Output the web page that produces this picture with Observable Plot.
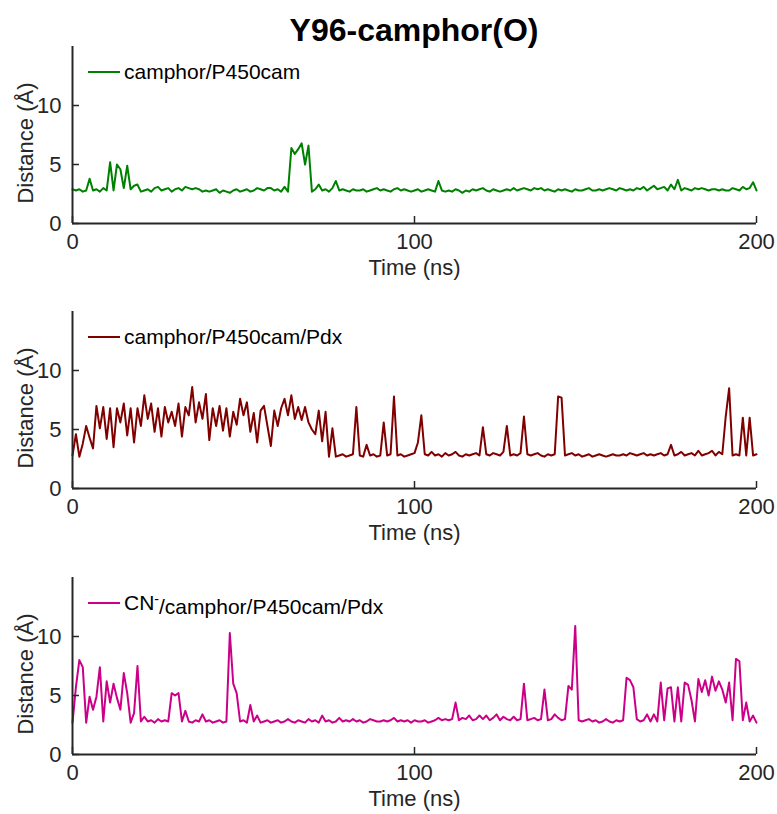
<!DOCTYPE html>
<html>
<head>
<meta charset="utf-8">
<script src="https://cdn.jsdelivr.net/npm/d3@7"></script>
<script src="https://cdn.jsdelivr.net/npm/@observablehq/plot@0.6"></script>
<style>
  html, body { margin: 0; padding: 0; background: #fff; }
  #wrap { position: relative; width: 777px; height: 814px; font-family: "Liberation Sans", Arial, Helvetica, sans-serif; }
  #title { position: absolute; left: 0; top: 10px; width: 828px; height: 40px; text-align: center; font-weight: bold; font-size: 32px; line-height: 40px; color: #000; }
  .panel { position: absolute; left: 0; }
</style>
</head>
<body>
<div id="wrap">
  <div id="title">Y96-camphor(O)</div>
</div>
<script>
// ---- data ----
const timeNs = d3.range(0, 201, 1); // sampling grid, ns
const xTicks = [0, 100, 200];
const yTicks = [0, 5, 10];
const yDomain = [0, 15];
const xLabel = "Time (ns)";
const yLabel = "Distance (Å)";
const legendLabels = ["camphor/P450cam", "camphor/P450cam/Pdx", "CN⁻/camphor/P450cam/Pdx"];
const seriesColors = ["#008000", "#800000", "#cc0088"];

const distP450cam = [
  2.9, 2.8, 2.9, 2.7, 2.8, 3.8, 2.8, 2.9, 2.7, 3.0,
  2.8, 5.2, 2.8, 5.0, 4.6, 3.0, 4.9, 2.9, 3.2, 3.3,
  2.7, 2.8, 2.9, 2.7, 3.0, 3.1, 2.8, 2.9, 3.0, 2.7,
  2.9, 3.0, 2.8, 3.1, 3.0, 2.9, 3.0, 2.9, 2.7, 2.8,
  2.7, 2.8, 2.9, 2.6, 2.8, 2.7, 2.6, 2.8, 2.9, 2.7,
  2.8, 2.9, 2.7, 2.8, 3.0, 2.9, 2.8, 3.0, 3.0, 2.8,
  2.9, 2.7, 3.1, 2.7, 6.4, 5.9, 6.3, 6.8, 5.0, 6.6,
  2.7, 2.9, 3.3, 2.8, 2.9, 2.7, 3.0, 3.6, 2.8, 2.9,
  2.8, 2.7, 2.9, 2.8, 2.8, 2.9, 2.7, 2.8, 2.9, 3.0,
  2.8, 2.9, 2.8, 2.7, 2.9, 3.0, 2.8, 2.9, 2.8, 2.7,
  2.8, 2.9, 2.7, 2.8, 2.9, 2.8, 2.7, 3.6, 2.8, 2.7,
  2.8, 2.7, 2.9, 2.8, 2.6, 2.8, 2.7, 2.9, 2.8, 2.9,
  3.0, 2.8, 2.7, 2.9, 2.8, 2.7, 2.8, 2.9, 2.8, 3.0,
  2.8, 2.9, 3.0, 2.9, 2.8, 3.0, 2.9, 3.0, 2.8, 2.9,
  2.8, 2.7, 2.9, 2.8, 2.9, 2.8, 2.7, 2.9, 2.8, 2.8,
  2.9, 3.0, 2.8, 2.8, 2.9, 2.8, 2.9, 3.0, 2.9, 2.8,
  3.0, 2.9, 2.8, 2.9, 2.8, 3.0, 2.9, 3.1, 2.8, 3.0,
  3.2, 2.9, 3.0, 3.1, 2.8, 3.3, 2.9, 3.7, 2.8, 3.0,
  2.9, 2.8, 3.0, 2.9, 3.0, 2.9, 2.8, 2.9, 2.9, 2.8,
  2.9, 2.8, 2.8, 3.0, 2.9, 2.8, 3.1, 2.9, 3.0, 3.5, 2.8
];

const distP450camPdx = [
  2.8, 4.6, 2.7, 3.8, 5.3, 4.3, 3.4, 7.0, 5.1, 6.9,
  4.2, 6.8, 3.5, 6.8, 5.6, 7.2, 4.5, 6.8, 3.9, 6.8,
  5.3, 7.9, 5.9, 7.2, 4.8, 6.8, 4.4, 6.9, 5.6, 6.5,
  5.3, 7.2, 4.4, 6.9, 6.2, 8.6, 5.6, 7.3, 5.9, 8.0,
  4.1, 6.8, 5.3, 7.0, 4.9, 6.8, 4.4, 6.5, 5.4, 7.6,
  6.2, 7.3, 4.8, 6.4, 3.9, 6.6, 7.0, 5.3, 3.6, 6.6,
  5.3, 6.8, 7.6, 6.2, 7.9, 5.9, 6.9, 5.8, 6.9, 5.6,
  5.0, 4.6, 6.6, 4.0, 6.5, 2.7, 5.1, 2.7, 2.8, 2.9,
  2.7, 2.8, 2.9, 6.9, 2.8, 2.7, 3.7, 2.8, 2.9, 2.7,
  2.8, 5.6, 2.8, 2.9, 7.8, 2.8, 2.9, 2.7, 2.8, 2.9,
  3.0, 3.9, 6.2, 2.9, 2.8, 3.1, 2.8, 2.9, 2.7, 3.0,
  2.8, 2.9, 3.1, 2.8, 2.7, 2.9, 2.8, 2.9, 3.0, 2.8,
  5.2, 2.9, 2.8, 3.0, 2.9, 2.8, 3.1, 5.3, 2.8, 2.9,
  2.8, 3.0, 6.1, 2.9, 2.8, 2.9, 3.0, 2.8, 2.7, 2.9,
  2.8, 2.9, 7.8, 7.7, 2.8, 2.9, 3.0, 2.8, 2.9, 2.7,
  2.8, 2.9, 2.7, 2.8, 2.9, 2.8, 2.7, 2.8, 2.9, 2.8,
  2.8, 2.9, 2.8, 3.0, 2.9, 2.8, 2.9, 3.0, 2.8, 2.9,
  2.8, 2.9, 3.0, 2.8, 2.9, 3.7, 2.8, 2.9, 3.1, 2.8,
  2.9, 3.0, 2.8, 3.2, 2.8, 2.9, 3.0, 3.2, 2.8, 3.1,
  2.9, 6.1, 8.5, 2.8, 2.9, 2.8, 6.0, 2.8, 6.0, 2.8, 2.9
];

const distCNP450camPdx = [
  2.7, 5.7, 8.0, 7.4, 2.7, 4.9, 3.8, 4.9, 7.4, 2.8,
  6.2, 4.4, 6.0, 4.8, 3.8, 6.9, 5.2, 2.7, 3.5, 7.5,
  2.8, 3.2, 2.8, 2.9, 2.7, 3.0, 2.8, 2.9, 2.8, 5.2,
  5.0, 5.2, 2.8, 3.7, 2.8, 2.7, 2.9, 2.8, 3.4, 2.8,
  2.9, 2.7, 2.8, 2.9, 2.7, 2.8, 10.3, 6.0, 5.2, 2.8,
  2.9, 2.7, 4.2, 2.8, 3.3, 2.7, 2.8, 2.9, 2.7, 2.8,
  2.9, 2.7, 2.8, 3.0, 2.8, 2.7, 2.9, 2.8, 2.7, 3.0,
  2.8, 2.9, 2.7, 3.3, 2.8, 2.9, 2.7, 2.8, 3.1, 2.8,
  2.9, 2.8, 3.0, 2.8, 2.9, 2.7, 2.8, 3.0, 2.9, 2.8,
  2.8, 2.9, 2.8, 2.9, 3.1, 2.8, 2.9, 2.8, 2.9, 2.7,
  2.9, 2.8, 2.8, 2.9, 2.7, 2.8, 2.9, 3.1, 2.9, 3.0,
  2.9, 3.0, 4.4, 2.9, 3.1, 3.0, 3.3, 2.9, 3.0, 3.3,
  3.0, 3.3, 2.9, 3.1, 3.4, 2.9, 3.2, 3.0, 2.9, 3.2,
  2.9, 3.0, 6.0, 2.9, 3.0, 3.1, 2.9, 3.0, 5.5, 2.9,
  3.0, 3.4, 3.1, 2.9, 3.0, 5.8, 5.5, 10.9, 2.9, 2.8,
  2.9, 3.0, 2.8, 2.9, 2.7, 2.8, 3.0, 2.8, 2.7, 2.9,
  2.8, 2.9, 6.5, 6.3, 5.7, 3.0, 2.8, 2.9, 3.4, 2.8,
  3.4, 2.8, 6.1, 2.9, 5.6, 5.7, 2.8, 5.7, 2.8, 6.1,
  5.9, 4.6, 2.8, 6.4, 5.3, 6.3, 5.0, 6.6, 5.4, 6.2,
  5.5, 4.4, 6.1, 2.9, 8.1, 7.9, 2.9, 4.4, 2.8, 3.3, 2.7
];

const seriesValues = [distP450cam, distP450camPdx, distCNP450camPdx];
const panelTops = [40, 305, 571];

// ---- drawing ----
const axisColor = "#262626";
const FONT = "Liberation Sans, Arial, Helvetica, sans-serif";

function legendMark(label, color) {
  return (index, scales, values, dims) => {
    const g = d3.create("svg:g");
    const lx = dims.marginLeft + 16;
    const ly = dims.marginTop + 26;
    g.append("line")
      .attr("x1", lx).attr("x2", lx + 32)
      .attr("y1", ly).attr("y2", ly)
      .attr("stroke", color).attr("stroke-width", 2);
    const txt = g.append("text")
      .attr("x", lx + 36).attr("y", ly).attr("dy", "0.35em")
      .attr("text-anchor", "start")
      .attr("font-size", 21).attr("font-family", FONT).attr("fill", "#000");
    const parts = label.split("⁻");
    parts.forEach((p, i) => {
      if (i > 0) {
        txt.append("tspan").attr("dy", "-0.45em").attr("font-size", 14).text("-");
        txt.append("tspan").attr("dy", "0.45em").text(p);
      } else {
        txt.append("tspan").text(p);
      }
    });
    return g.node();
  };
}

const wrap = document.getElementById("wrap");

seriesValues.forEach((vals, i) => {
  const data = timeNs.map((t, j) => ({t, v: vals[j]}));
  const chart = Plot.plot({
    width: 777,
    height: 243,
    marginLeft: 72,
    marginRight: 21,
    marginTop: 6,
    marginBottom: 60,
    style: {fontFamily: FONT, fontSize: "22px", background: "transparent", color: axisColor},
    x: {domain: [0, 200]},
    y: {domain: yDomain},
    marks: [
      Plot.line(data, {x: "t", y: "v", stroke: seriesColors[i], strokeWidth: 2}),
      Plot.ruleX([0], {stroke: axisColor, strokeWidth: 2}),
      Plot.ruleY([0], {stroke: axisColor, strokeWidth: 2}),
      Plot.tickX(xTicks, {x: d => d, insetTop: 170, stroke: axisColor, strokeWidth: 1.5}),
      Plot.tickY(yTicks, {y: d => d, insetRight: 677, stroke: axisColor, strokeWidth: 1.5}),
      Plot.axisX(xTicks, {tickSize: 0, tickPadding: 10, fontSize: 22, label: null, color: axisColor}),
      Plot.axisY(yTicks, {tickSize: 0, tickPadding: 11, fontSize: 22, label: null, color: axisColor}),
      Plot.text([xLabel], {frameAnchor: "bottom", dy: 51, fontSize: 22, fill: axisColor}),
      Plot.text([yLabel], {frameAnchor: "left", textAnchor: "middle", dx: -47, dy: 8, rotate: -90, fontSize: 22, fill: axisColor}),
      legendMark(legendLabels[i], seriesColors[i])
    ]
  });
  const holder = document.createElement("div");
  holder.className = "panel";
  holder.style.top = panelTops[i] + "px";
  holder.appendChild(chart);
  wrap.appendChild(holder);
});
</script>
</body>
</html>
